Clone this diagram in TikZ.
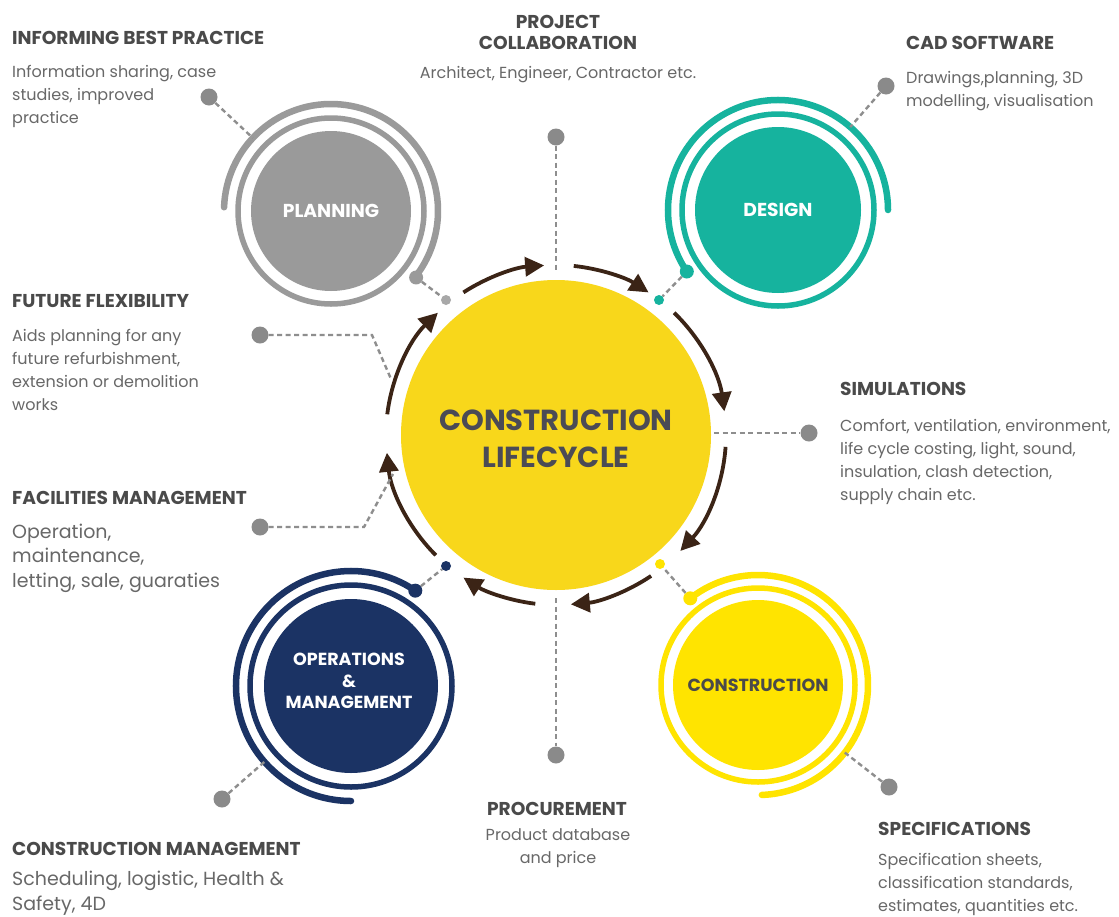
\documentclass[tikz,border=0pt]{standalone}
\usepackage{fontspec}
\setmainfont{Poppins}
\usetikzlibrary{arrows.meta,calc}
\definecolor{plc}{HTML}{9A9A9A}
\definecolor{plc2}{HTML}{A8A8A8}
\definecolor{desc}{HTML}{16B39E}
\definecolor{navyc}{HTML}{1B3364}
\definecolor{cyel}{HTML}{F8D71B}
\definecolor{conyel}{HTML}{FFE400}
\definecolor{brownc}{HTML}{3B2416}
\definecolor{hdc}{HTML}{4A4A4A}
\definecolor{bdc}{HTML}{686868}
\definecolor{dashc}{HTML}{8E8E8E}
\definecolor{dotc}{HTML}{8A8A8A}
\definecolor{ctext}{HTML}{4B4B55}
\tikzset{
  disk/.style={circle, inner sep=0pt, minimum size=#1},
  hd/.style={anchor=base west, inner sep=0pt, text=hdc, font=\bfseries\fontsize{18.6}{21.5}\selectfont},
  bd/.style={anchor=base west, inner sep=0pt, text=bdc, align=left, font=\fontsize{16}{23}\selectfont},
  bdl/.style={anchor=base west, inner sep=0pt, text=bdc, align=left, font=\fontsize{19}{24.5}\selectfont},
  spoke/.style={draw=dashc, line width=2.4pt, dash pattern=on 5pt off 3.5pt},
  bigdot/.style={circle, fill=dotc, inner sep=0pt, minimum size=17pt},
  enddot/.style={circle, fill=#1, inner sep=0pt, minimum size=14pt},
  smalldot/.style={circle, fill=#1, inner sep=0pt, minimum size=10pt},
  cyc/.style={draw=brownc, line width=3.8pt, -{Triangle[length=19pt,width=19pt]}},
  ring/.style={draw=#1, line width=5.5pt},
  outring/.style={draw=#1, line width=6.5pt, line cap=round},
  lbl/.style={text=white, align=center, font=\bfseries\fontsize{17.5}{21.5}\selectfont},
  lblb/.style={text=white, align=center, font=\bfseries\fontsize{18.7}{21.5}\selectfont},
}
\begin{document}
\begin{tikzpicture}[x=1pt,y=-1pt]
\useasboundingbox (0,0) rectangle (1119,916);
\fill[white] (0,0) rectangle (1119,916);

% central circle
\node[disk=310pt, fill=cyel] (cc) at (556,435) {};
\node[text=ctext, align=center, font=\bfseries\fontsize{29}{37}\selectfont] (cct) at (556,439) {CONSTRUCTION\\LIFECYCLE};

% cycle arrows
\draw[cyc] (cc.center) ++(-123:170) arc[start angle=-123, end angle=-94, radius=170];
\draw[cyc] (cc.center) ++(-84:170) arc[start angle=-84, end angle=-57, radius=170];
\draw[cyc] (cc.center) ++(-46:170) arc[start angle=-46, end angle=-8, radius=170];
\draw[cyc] (cc.center) ++(4:170) arc[start angle=4, end angle=43, radius=170];
\draw[cyc] (cc.center) ++(56:170) arc[start angle=56, end angle=85, radius=170];
\draw[cyc] (cc.center) ++(97:170) arc[start angle=97, end angle=123, radius=170];
\draw[cyc] (cc.center) ++(135:170) arc[start angle=135, end angle=174, radius=170];
\draw[cyc] (cc.center) ++(187:170) arc[start angle=187, end angle=226, radius=170];

% PLANNING
\node[disk=160pt, fill=plc, lblb] (plan) at (331,211) {PLANNING};
\draw[ring=plc] (plan.center) circle[radius=93];
\draw[outring=plc] (plan.center) ++(-178:107) arc[start angle=-178, end angle=38, radius=107];
\node[enddot=plc] (planend) at ($(plan.center)+(38:108)$) {};
\node[smalldot=plc2] (plansm) at (446,300) {};
\draw[spoke] (planend) -- (plansm);

% DESIGN
\node[disk=166pt, fill=desc, lblb] (des) at (778,210) {DESIGN};
\draw[ring=desc] (des.center) circle[radius=96];
\draw[outring=desc] (des.center) ++(-214:110) arc[start angle=-214, end angle=0, radius=110];
\node[enddot=desc] (desend) at ($(des.center)+(146:110)$) {};
\node[smalldot=desc] (dessm) at (659,300) {};
\draw[spoke] (desend) -- (dessm);

% OPERATIONS
\node[disk=174pt, fill=navyc] (ops) at (351,686) {};
\node[lbl] (opst) at (349,681) {OPERATIONS\\\&\\MANAGEMENT};
\draw[ring=navyc] (ops.center) circle[radius=101];
\draw[outring=navyc] (ops.center) ++(-56:115) arc[start angle=-56, end angle=-270, radius=115];
\node[enddot=navyc] (opsend) at ($(ops.center)+(-56:115)$) {};
\node[smalldot=navyc] (opssm) at (446,566) {};
\draw[spoke] (opsend) -- (opssm);

% CONSTRUCTION
\node[disk=170pt, fill=conyel, lbl, text=hdc] (con) at (758,685) {CONSTRUCTION};
\draw[ring=conyel] (con.center) circle[radius=97];
\draw[outring=conyel] (con.center) ++(-128:110) arc[start angle=-128, end angle=88, radius=110];
\node[enddot=conyel] (conend) at ($(con.center)+(-128:110)$) {};
\node[smalldot=conyel] (consm) at (660,564) {};
\draw[spoke] (conend) -- (consm);

% outer spokes
\node[bigdot] (ibdot) at (209,97) {};
\draw[spoke] (ibdot) -- ($(plan.center)!107pt!(ibdot)$);
\node[bigdot] (pcdot) at (556,137) {};
\coordinate (pcend) at (556,272);
\draw[spoke] (pcdot) -- (pcend);
\node[bigdot] (caddot) at (886,86) {};
\draw[spoke] (caddot) -- ($(des.center)!110pt!(caddot)$);
\node[bigdot] (simdot) at (809,433) {};
\coordinate (simend) at (714,433);
\draw[spoke] (simend) -- (simdot);
\node[bigdot] (specdot) at (889,787) {};
\draw[spoke] (specdot) -- ($(con.center)!110pt!(specdot)$);
\node[bigdot] (prdot) at (556,755) {};
\coordinate (prend) at (556,598);
\draw[spoke] (prend) -- (prdot);
\node[bigdot] (cmdot) at (222,799) {};
\draw[spoke] (cmdot) -- ($(ops.center)!115pt!(cmdot)$);
\node[bigdot] (ffdot) at (260,335) {};
\coordinate (ffbend) at (372,335);
\coordinate (ffend) at (391,379);
\draw[spoke] (ffdot) -- (ffbend) -- (ffend);
\node[bigdot] (fmdot) at (260,527) {};
\coordinate (fmbend) at (364,527);
\coordinate (fmend) at (393,474);
\draw[spoke] (fmdot) -- (fmbend) -- (fmend);

% texts (base anchor = baseline of the last line)
\node[hd] (ibh) at (12,44.5) {INFORMING BEST PRACTICE};
\node[bd] (ibb) at (12,123) {Information sharing, case\\studies, improved\\practice};

\node[hd, anchor=base, align=center] (pch) at (558,49.5) {PROJECT\\COLLABORATION};
\node[bd, anchor=base] (pcb) at (558,78) {Architect, Engineer, Contractor etc.};

\node[hd] (cadh) at (906,49) {CAD SOFTWARE};
\node[bd] (cadb) at (906,106) {Drawings,planning, 3D\\modelling, visualisation};

\node[hd] (ffh) at (12,307) {FUTURE FLEXIBILITY};
\node[bd] (ffb) at (12,410) {Aids planning for any\\future refurbishment,\\extension or demolition\\works};

\node[hd] (simh) at (840,395) {SIMULATIONS};
\node[bd] (simb) at (840,500) {Comfort, ventilation, environment,\\life cycle costing, light, sound,\\insulation, clash detection,\\supply chain etc.};

\node[hd] (fmh) at (12,504) {FACILITIES MANAGEMENT};
\node[bdl] (fmb) at (12,587) {Operation,\\maintenance,\\letting, sale, guaraties};

\node[hd, anchor=base] (prh) at (557,815) {PROCUREMENT};
\node[bd, anchor=base, align=center] (prb) at (558,863) {Product database\\and price};

\node[hd] (sph) at (878,835) {SPECIFICATIONS};
\node[bd] (spb) at (878,911) {Specification sheets,\\classification standards,\\estimates, quantities etc.};

\node[hd] (cmh) at (12,855) {CONSTRUCTION MANAGEMENT};
\node[bdl] (cmb) at (12,910) {Scheduling, logistic, Health \&\\Safety, 4D};
\end{tikzpicture}
\end{document}
